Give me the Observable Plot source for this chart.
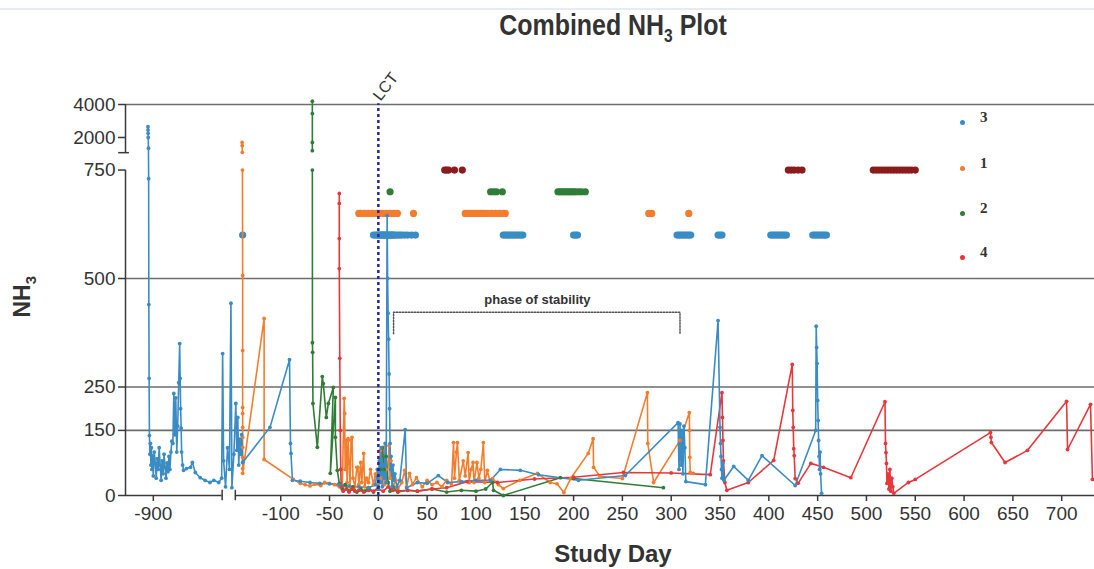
<!DOCTYPE html>
<html><head><meta charset="utf-8">
<script src="https://cdn.jsdelivr.net/npm/d3@7"></script>
<script src="https://cdn.jsdelivr.net/npm/@observablehq/plot@0.6"></script>
<style>
body{margin:0;background:#fff;}
#wrap{position:relative;width:1094px;height:569px;overflow:hidden;font-family:"Liberation Sans",Arial,sans-serif;}
#chart{position:absolute;left:0;top:0;}
#title{position:absolute;top:9px;left:0;width:1226px;text-align:center;font-family:"Liberation Sans",Arial,sans-serif;font-weight:bold;font-size:29px;color:#333;transform:scaleX(0.86);transform-origin:613px 0;}
#title sub{font-size:18px;}
#ylab{position:absolute;left:-8px;top:282px;width:64px;text-align:center;transform:rotate(-90deg);font-weight:bold;font-size:23px;color:#333;}
#ylab sub{font-size:15px;}
#xlab{position:absolute;top:540px;left:0;width:1226px;text-align:center;font-weight:bold;font-size:24px;color:#333;}
.leg{position:absolute;left:960px;font-family:"Liberation Serif",serif;font-weight:bold;font-size:15px;color:#333;}
.leg i{position:absolute;left:0;width:5px;height:5px;border-radius:50%;}
.leg span{position:absolute;left:20px;top:-11px;}
#topline{position:absolute;top:8px;left:0;width:1094px;height:2px;background:#e6ecf3;}
</style></head>
<body><div id="wrap">
<div id="topline"></div>
<div id="title">Combined NH<sub>3</sub> Plot</div>
<div id="chart"></div>
<div id="ylab">NH<sub>3</sub></div>
<div id="xlab">Study Day</div>
<div id="legend"></div>
</div>
<script>
// ---- categories / colours ----
const seriesIds = ["3", "1", "2", "4"];
const seriesColors = ["#3a8cc4", "#f47d2c", "#2f7d36", "#e8373c"];
const darkRed = "#8c1b1d";

// ---- tick labels ----
const xTickDays = [-900, -100, -50, 0, 50, 100, 150, 200, 250, 300, 350, 400, 450, 500, 550, 600, 650, 700];
const yTickVals = [0, 150, 250, 500, 750, 2000, 4000];
const gridVals = [150, 250, 500, 4000];

// ---- series values: [study day, NH3] (null = line break at axis break) ----
const series3 = [
[-905.5,2650],[-905.4,2450],[-905.3,2250],[-905.2,2000],[-905,1350],[-904.8,730],[-904.6,440],[-904.3,270],[-904,138],[-903.5,95],[-903,120],[-902.5,70],[-902,110],[-901.5,60],[-901,92],[-900,45],[-899,100],[-898,75],[-897,40],[-896,85],[-895,60],[-894,110],[-893,70],[-892,35],[-891,80],[-890,50],[-889,95],[-888,65],[-887,40],[-886,75],[-885,55],[-884,90],[-883,60],[-882,100],[-881,125],[-880,120],[-879,235],[-878,140],[-877,225],[-876,100],[-875,160],[-874,260],[-873,350],[-872.5,270],[-872,200],[-871.5,155],[-871,100],[-870,70],[-869,58],[-866,62],[-862,65],[-860,76],[-857,53],[-852,41],[-847,35],[-842,30],[-838,35],[-833,30],[-830,40],[-829,327],[-828,80],[-826,20],[-824,110],[-822,60],
[-151,443],[-150,18],[-148,95],[-146,212],[-145,104],[-144,180],[-143,70],[-142,130],[-141,95],[-140,140],[-139,76],[-111,157],[-91,313],[-90,120],[-89.5,97],[-88,35],[-80,33],[-70,30],[-60,28],[-50,27],[-40,25],[-30,22],[-20,20],[-10,18],[-3,25],[-1,60],[0,15],[1,80],[2,30],[3,110],[4,20],[5,70],[6,40],[7,120],[8,30],[9,645],[9.5,500],[10,420],[10.5,360],[11,280],[11.5,200],[12,120],[12.5,60],[13,90],[14,20],[15,70],[16,35],[17,50],[19,20],[22,35],[27.5,152],[29,18],[40,30],[50,28],[61.5,46],[71,30],[85,32],[100,35],[115,35],[125,60],[145.5,58],[164,48],[205,35],[253,46],[307,168],[308,60],[309,165],[310,70],[311,150],[312,50],[313,160],[314,110],[315,32],[335,25],[348,403],[350,157],[350.5,120],[351,90],[351.5,60],[352,40],[353,75],[354,35],[364,67],[379,35],[393,92],[427,23],[448,150],[448.5,390],[449,341],[449.5,304],[450,219],[450.5,173],[451,127],[451.5,90],[452,60],[452.5,100],[453,50],[454,5]
];
const series1 = [
[-139.5,1700],[-139.4,1500],[-139.3,1100],null,[-139.2,750],[-139,507],[-139,334],[-139,203],[-139,189],[-139,157],[-139,134],[-139,111],[-139,88],[-139,62],[-139,51],
[-117,408],[-117,83],[-87,37],[-80,28],[-75,25],[-70,22],[-65,26],[-59,23],[-55,30],[-50,28],[-45,25],[-40,20],[-37,18],[-35,224],[-34.5,189],[-34,60],[-33,127],[-32,30],[-31,131],[-29,20],[-28,127],[-27,134],[-26,40],[-24,20],[-22,65],[-21,65],[-20,25],[-18,76],[-17,30],[-15,97],[-14,20],[-12,40],[-10,30],[-8,60],[-5,25],[-3,50],[0,30],[2,104],[3,40],[5,111],[6,25],[8,60],[9,30],[11,115],[12,40],[13,80],[15,20],[18,35],[20,15],[24,30],[27,58],[29,20],[32,51],[35,25],[39,41],[45,20],[50,35],[55,25],[60,30],[65,20],[70,35],[75,25],[77,122],[78,40],[80,100],[81,122],[83,35],[87,80],[89,45],[92,99],[93,30],[95,60],[97,76],[98,30],[101,76],[103,40],[105,60],[107.6,122],[109,30],[111.7,58],[114,35],[117,39],[123,25],[128,16],[145,35],[163,51],[176,30],[183,27],[190,7],[197,39],[215,97],[220,131],[220.5,65],[227,44],[250,39],[275.6,237],[276,120],[282,30],[309,127],[318.6,191],[318.8,150],[319,88],[319.5,53],[322.7,51]
];
const series2 = [
[-67.6,4200],[-67.6,3450],[-67.6,1700],[-67.6,1200],null,[-67.6,750],[-67.5,352],[-67.3,330],[-67,212],[-62.5,111],[-57.4,274],[-56.4,258],[-53.3,180],[-51.2,212],[-46.1,249],[-49.2,51],[-44,226],[-44,134],[-42,58],[-40,28],[-37,15],[-34,25],[-30,10],[-26,20],[-22,8],[-18,15],[-14,10],[-10,18],[-5,8],[0,20],[2,60],[4,110],[6,60],[8,90],[10,30],[12,10],[15,20],[20,8],[30,12],[40,10],[55,15],[70,8],[85,12],[100,10],[110,15],[117,30],[118,12],[128,0],[186.5,41],[200,39],[292,18]
];
const series4 = [
[-40,696],[-40,673],[-40,592],[-40,523],[-39.5,316],[-39,150],[-38.5,60],[-38,20],[-36,10],[-33,15],[-30,8],[-27,15],[-24,10],[-20,12],[-15,8],[-10,12],[-5,10],[0,15],[5,10],[10,20],[15,12],[20,10],[30,12],[40,10],[55,15],[70,18],[91,32],[122,30],[160,38],[200,42],[251,53],[300,52],[340,48],[352,237],[352.5,180],[353,127],[353.5,80],[355,30],[357,12],[379,30],[405,81],[424,302],[424.5,196],[425,157],[425.5,108],[426,92],[427,39],[430,28],[443,74],[456,65],[484,41],[519,216],[519.5,120],[520,99],[520.5,74],[521,28],[522,50],[523,15],[524,60],[525,10],[526,40],[527,20],[528,5],[543,30],[550,37],[627,145],[627.5,134],[628,122],[642,76],[665,104],[705,217],[706,106],[729.5,210],[731.5,37]
];

// ---- marker rows (days of each sample), drawn at a fixed NH3 level each ----
const rowBlueDays = [-139,-5,-3,-1,0,1,2,3,4,5,6,7,8,9,10,11,12,13,14,15,16,18,20,22,24,27,30,34,38,128,130,132,134,136,138,140,142,144,146,148,200,202,204,306,308,310,312,314,316,318,320,348,350,352,402,404,406,408,410,412,414,416,418,445,447,449,451,453,455,457,459];
const rowOrangeDays = [-20,-18,-14,-10,-6,-2,0,2,4,8,12,16,19.5,36,89,91,93,95,97,99,101,103,105,107,109,112,116,120,124,128,130,277,280,318];
const rowGreenDays = [12,115,118,121,127,184,186,188,190,192,194,196,198,200,202,205,208,212];
const rowDarkRedDays = [68,70,72,78,86,420,423,426,430,434,507,510,513,516,519,522,525,528,531,534,537,540,543,546,550];
const rowLevels = {blue: 600, orange: 650, green: 700, darkred: 750};

// ---- annotations ----
const lctDay = 0;
const bracketDays = [15.6, 15.6, 309, 309];
const bracketVals = [373, 422, 422, 373];
const bracketLabel = {day: 163, nh3: 452, text: "phase of stability"};

// ---- broken axes ----
const X_LEFT_OFFSET = 669.5;        // left (-900) segment shifted next to main segment
const X_LEFT_END = -829.5, X_RIGHT_START = -146.5;
const xt = d => d < -500 ? d + X_LEFT_OFFSET : d;
const yt = v => v <= 800 ? v : 825 + (v - 2000) * 0.038;
const Y_UPPER_START_T = 790;
const xDomain = [-259, 733.6];
const yDomainT = [0, yt(4000)];

const rows = [["1", series1], ["2", series2], ["4", series4], ["3", series3]]
  .flatMap(([id, pts]) => pts.map(p => p ? {id, day: p[0], nh3: p[1]} : {id, day: NaN, nh3: NaN}));
const X = d => xt(d.day), Y = d => yt(d.nh3);

const xTickT = xTickDays.map(xt);
const xLab = new Map(xTickDays.map(d => [xt(d), String(d)]));
const yTickT = yTickVals.map(yt);
const yLab = new Map(yTickVals.map(v => [yt(v), String(v)]));

const rowMark = (days, level, fill) => Plot.dot(days, {x: d => xt(d), y: () => level, r: 3.6, fill, stroke: "none"});
const axisColor = "#3a3a3a";

const chart = Plot.plot({
  width: 1094, height: 569,
  marginLeft: 125, marginRight: 0, marginTop: 104, marginBottom: 74,
  x: {domain: xDomain, label: null},
  y: {domain: yDomainT, label: null},
  color: {domain: seriesIds, range: seriesColors},
  style: {fontFamily: "Liberation Sans, Arial, sans-serif", color: "#333", background: "transparent", overflow: "visible"},
  marks: [
    Plot.ruleY(gridVals.map(yt), {stroke: "#6d6d6d", strokeWidth: 1.6}),
    // axis lines with breaks
    Plot.ruleY([0], {x1: xDomain[0], x2: X_LEFT_END + X_LEFT_OFFSET, stroke: axisColor, strokeWidth: 1.5}),
    Plot.ruleY([0], {x1: X_RIGHT_START, x2: xDomain[1], stroke: axisColor, strokeWidth: 1.5}),
    Plot.ruleX([X_LEFT_END + X_LEFT_OFFSET, X_RIGHT_START], {y1: -12, y2: 12, stroke: axisColor, strokeWidth: 1.5}),
    Plot.ruleX([xDomain[0]], {y1: 0, y2: 750, stroke: axisColor, strokeWidth: 1.5}),
    Plot.ruleX([xDomain[0]], {y1: Y_UPPER_START_T, y2: yDomainT[1], stroke: axisColor, strokeWidth: 1.5}),
    Plot.ruleY([Y_UPPER_START_T], {x1: xDomain[0] - 7, x2: xDomain[0] + 4, stroke: axisColor, strokeWidth: 1.5}),
    Plot.axisX(xTickT, {tickFormat: t => xLab.get(t), label: null, fontSize: 19, tickSize: 6, tickPadding: 5, stroke: axisColor, strokeWidth: 1.5, fill: "#333"}),
    Plot.axisY(yTickT, {tickFormat: t => yLab.get(t), label: null, fontSize: 19, tickSize: 7, tickPadding: 3, stroke: axisColor, strokeWidth: 1.5, fill: "#333"}),
    // marker rows
    rowMark(rowDarkRedDays, rowLevels.darkred, darkRed),
    rowMark(rowGreenDays, rowLevels.green, seriesColors[2]),
    rowMark(rowOrangeDays, rowLevels.orange, seriesColors[1]),
    rowMark(rowBlueDays, rowLevels.blue, seriesColors[0]),
    // series
    Plot.line(rows, {x: X, y: Y, z: "id", stroke: "id", strokeWidth: 1.6}),
    Plot.dot(rows, {x: X, y: Y, fill: "id", r: 1.9, stroke: "none"}),
    // LCT
    Plot.ruleX([lctDay], {y1: 0, y2: yDomainT[1] + 2, stroke: "#2626a8", strokeWidth: 2.5, strokeDasharray: "3,3"}),
    Plot.text([lctDay], {x: d => d, y: () => yDomainT[1], text: () => "LCT", rotate: -52, textAnchor: "start", fontSize: 16, dx: -2, dy: -6, fill: "#333"}),
    // phase of stability
    Plot.line(bracketDays.map((d, i) => [d, bracketVals[i]]), {x: d => d[0], y: d => d[1], stroke: "#555", strokeWidth: 1.5, strokeDasharray: "1.5,1.5"}),
    Plot.text([bracketLabel], {x: "day", y: "nh3", text: "text", fontSize: 13, fontWeight: "bold", fill: "#333"})
  ]
});
document.getElementById("chart").appendChild(chart);

// legend
const legendTop = [122, 168, 213, 257];
const legend = document.getElementById("legend");
seriesIds.forEach((id, i) => {
  const el = document.createElement("div");
  el.className = "leg";
  el.style.top = (legendTop[i] - 2) + "px";
  el.innerHTML = `<i style="background:${seriesColors[i]}"></i><span>${id}</span>`;
  legend.appendChild(el);
});
</script>
</body></html>
